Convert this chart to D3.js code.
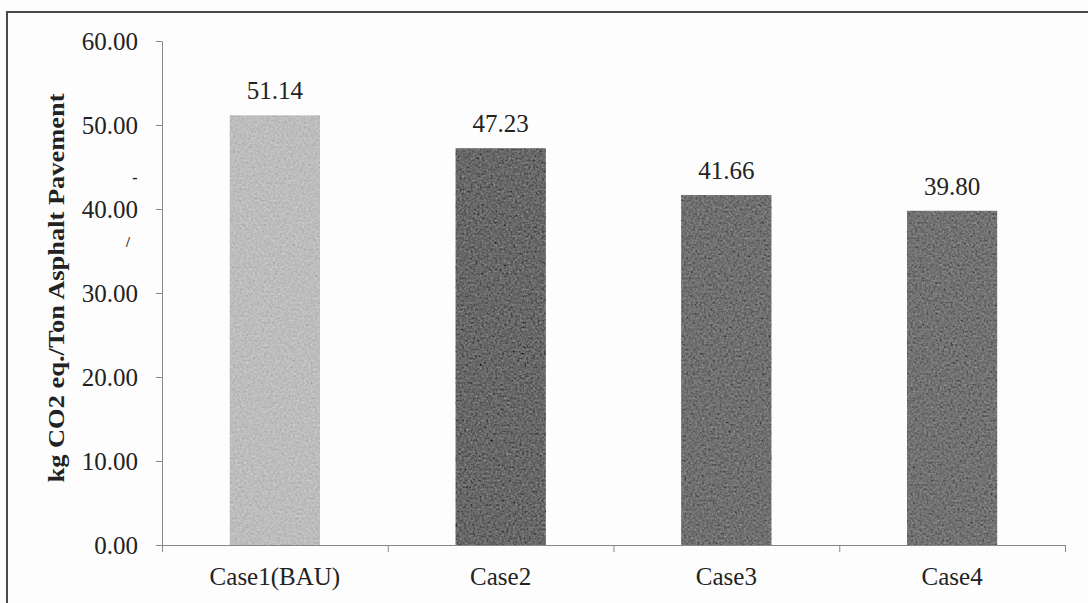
<!DOCTYPE html>
<html>
<head>
<meta charset="utf-8">
<script src="https://cdn.jsdelivr.net/npm/d3@7/dist/d3.min.js"></script>
<style>
  html, body { margin: 0; padding: 0; background: #fdfdfd; }
  svg { display: block; }
</style>
</head>
<body>
<svg id="chart" width="1088" height="603"></svg>
<script>
// ---- data ----
const categories = ["Case1(BAU)", "Case2", "Case3", "Case4"];
const values = [51.14, 47.23, 41.66, 39.80];
const yTicks = [0, 10, 20, 30, 40, 50, 60];
const barColors = ["#bdbdbd", "#686868", "#707070", "#727272"];
const yLabel = "kg CO2 eq./Ton Asphalt Pavement";

const FONT = '"Liberation Serif", "Times New Roman", "DejaVu Serif", serif';
const svg = d3.select("#chart");
const W = 1088, H = 603;

svg.append("rect").attr("width", W).attr("height", H).attr("fill", "#fdfdfd");

// grain filter for scanned look
const defs = svg.append("defs");
const f = defs.append("filter").attr("id", "grain")
  .attr("x", 0).attr("y", 0).attr("width", "100%").attr("height", "100%");
f.append("feTurbulence").attr("type", "fractalNoise").attr("baseFrequency", 0.45)
  .attr("numOctaves", 2).attr("seed", 4).attr("result", "noise");
f.append("feColorMatrix").attr("in", "noise").attr("type", "matrix")
  .attr("values", "0.33 0.33 0.33 0 0 0.33 0.33 0.33 0 0 0.33 0.33 0.33 0 0 0 0 0 0 1")
  .attr("result", "gray");
f.append("feComposite").attr("in", "SourceGraphic").attr("in2", "gray")
  .attr("operator", "arithmetic").attr("k1", 0).attr("k2", 1).attr("k3", 0.5).attr("k4", -0.25)
  .attr("result", "mix");
f.append("feComposite").attr("in", "mix").attr("in2", "SourceGraphic").attr("operator", "in");

// frame (top & left visible, cut off at right/bottom)
svg.append("path")
  .attr("d", "M7,603 L7,12 L1088,12")
  .attr("fill", "none").attr("stroke", "#4a4a4a").attr("stroke-width", 2);

// scales
const x = d3.scaleBand().domain(categories).range([162, 1065])
  .paddingInner(0.6).paddingOuter(0.3);
const y = d3.scaleLinear().domain([0, 60]).range([545, 41]);
const xb = d3.scaleLinear().domain([0, categories.length]).range([162, 1065]);

// bars
svg.append("g").selectAll("rect").data(values).join("rect")
  .attr("x", (d, i) => x(categories[i]))
  .attr("y", d => y(d))
  .attr("width", x.bandwidth())
  .attr("height", d => y(0) - y(d))
  .attr("fill", (d, i) => barColors[i])
  .attr("filter", "url(#grain)");

// y axis
const yAxis = svg.append("g").attr("transform", "translate(162,0)")
  .call(d3.axisLeft(y).tickValues(yTicks).tickFormat(d3.format(".2f"))
    .tickSize(6).tickSizeOuter(0).tickPadding(18));
yAxis.attr("font-family", FONT);
yAxis.selectAll("text").attr("font-size", 25).attr("dy", "0.33em")
  .attr("font-family", FONT).attr("fill", "#222");
yAxis.selectAll("line, path").attr("stroke", "#888");

// x axis boundary ticks
const xAxisB = svg.append("g").attr("transform", "translate(0,545)")
  .call(d3.axisBottom(xb).tickValues(d3.range(categories.length + 1)).tickFormat("")
    .tickSize(7).tickSizeOuter(0));
xAxisB.selectAll("line, path").attr("stroke", "#888");

// x category labels
const xAxis = svg.append("g").attr("transform", "translate(0,545)")
  .call(d3.axisBottom(x).tickSize(0).tickPadding(22));
xAxis.attr("font-family", FONT);
xAxis.select(".domain").remove();
xAxis.selectAll("text").attr("font-size", 25)
  .attr("font-family", FONT).attr("fill", "#222");

// value labels
svg.append("g").selectAll("text").data(values).join("text")
  .attr("x", (d, i) => x(categories[i]) + x.bandwidth() / 2)
  .attr("y", d => y(d) - 16)
  .attr("text-anchor", "middle")
  .attr("font-family", FONT).attr("font-size", 25).attr("fill", "#222")
  .text(d => d3.format(".2f")(d));

// y axis title
svg.append("text")
  .attr("transform", "translate(64,288) rotate(-90)")
  .attr("text-anchor", "middle")
  .attr("font-family", FONT).attr("font-size", 24).attr("font-weight", "bold").attr("fill", "#222")
  .attr("textLength", 389).attr("lengthAdjust", "spacingAndGlyphs")
  .text(yLabel);

// stray scan marks
svg.append("text").attr("x", 135).attr("y", 183).attr("text-anchor", "middle")
  .attr("font-family", FONT).attr("font-size", 16).attr("font-weight", "bold").attr("fill", "#222").text("-");
svg.append("text").attr("x", 128).attr("y", 247).attr("text-anchor", "middle")
  .attr("font-family", FONT).attr("font-size", 14).attr("font-weight", "bold").attr("fill", "#222").text("/");
</script>
</body>
</html>
